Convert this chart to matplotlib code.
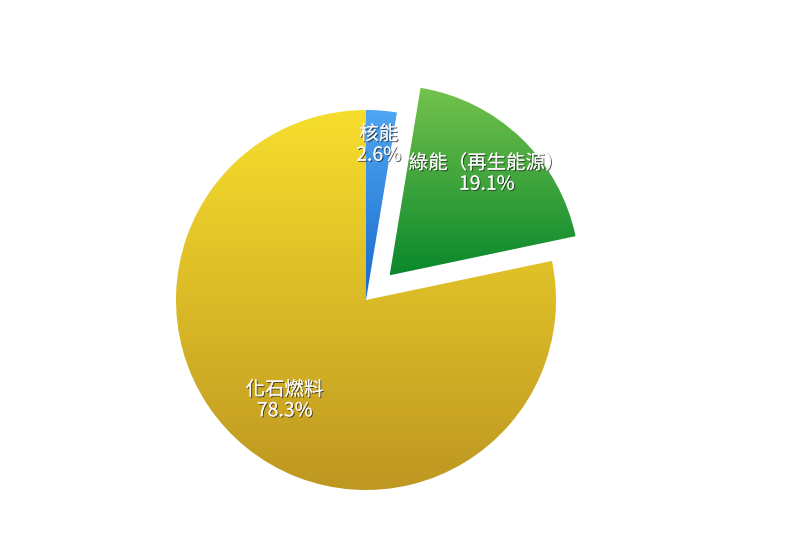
import numpy as np
import matplotlib
matplotlib.use("Agg")
import matplotlib.pyplot as plt
from matplotlib.colors import LinearSegmentedColormap
import matplotlib.patheffects as pe

plt.rcParams['font.family'] = ['Noto Sans CJK TC', 'DejaVu Sans']

labels = ['核能', '綠能（再生能源）', '化石燃料']
values = [2.6, 19.1, 78.3]
explode = [0.0, 0.18, 0.0]
top_colors = ['#4FA6F2', '#74C24C', '#F7DE2D']
bottom_colors = ['#1A6ACB', '#0A882C', '#BE9721']
label_dist = [0.82, 0.74, 0.68]

fig = plt.figure(figsize=(8, 5.33), dpi=100)
ax = fig.add_axes([0, 0, 1, 1])
R = 190.0
cx, cy = 366.0, 300.0
XL = ((0 - cx) / R, (800 - cx) / R)
YL = (-(533 - cy) / R, cy / R)

wedges, _ = ax.pie(values, explode=explode, startangle=90, counterclock=False,
                   radius=1.0, center=(0, 0), frame=True,
                   wedgeprops=dict(linewidth=0, edgecolor='none'))

grad = np.linspace(0, 1, 256).reshape(-1, 1)
for w, tc, bc, lab, v, d in zip(wedges, top_colors, bottom_colors, labels, values, label_dist):
    w.set_facecolor('none')
    verts = w.get_path().vertices
    x0, x1 = verts[:, 0].min(), verts[:, 0].max()
    y0, y1 = verts[:, 1].min(), verts[:, 1].max()
    cmap = LinearSegmentedColormap.from_list('g', [tc, bc])
    im = ax.imshow(grad, cmap=cmap, extent=[x0, x1, y0, y1], origin='upper',
                   aspect='auto', zorder=1, interpolation='bilinear')
    im.set_clip_path(w)
    mid = np.deg2rad((w.theta1 + w.theta2) / 2)
    ox, oy = w.center
    tx = ox + d * np.cos(mid)
    ty = oy + d * np.sin(mid)
    ax.text(tx, ty, f"{lab}\n{v:.1f}%", ha='center', va='center', fontsize=14,
            color='#F8F8F8', linespacing=1.0, zorder=5,
            path_effects=[pe.withSimplePatchShadow(offset=(0.8, -0.8), shadow_rgbFace='#222222', alpha=0.7),
                          pe.Normal()])

ax.set_xlim(*XL)
ax.set_ylim(*YL)
ax.set_aspect('equal')
ax.axis('off')

fig.savefig('out.png', dpi=100, facecolor='white')
